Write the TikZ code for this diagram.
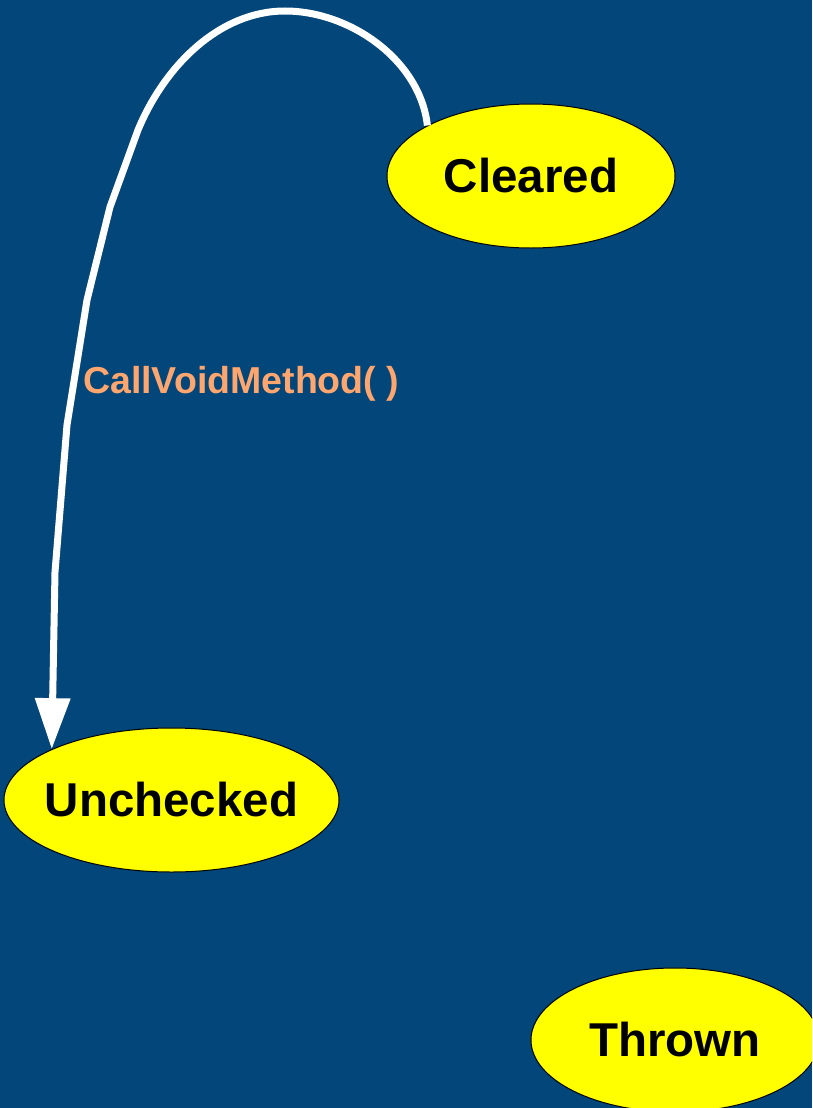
\documentclass[tikz,border=0pt]{standalone}
\usepackage{fontspec}
\setmainfont{Liberation Sans}
\usetikzlibrary{shapes.geometric,arrows.meta}
\definecolor{bgblue}{RGB}{2,70,122}
\definecolor{stateyellow}{RGB}{255,255,0}
\definecolor{labelorange}{RGB}{255,166,110}
\tikzset{
  state/.style={ellipse, draw=black, line width=1pt, fill=stateyellow,
    minimum width=288pt, minimum height=144pt, inner xsep=-40pt, inner ysep=0pt,
    font=\fontsize{47.5}{50}\selectfont\bfseries, text=black},
  transition/.style={draw=white, line width=7pt, line join=round,
    -{Triangle[length=51pt,width=34pt]}},
  translabel/.style={font=\fontsize{37.5}{40}\selectfont\bfseries,
    text=labelorange, inner sep=0pt}
}
\begin{document}
\begin{tikzpicture}[x=1pt,y=-1pt]
  \fill[bgblue] (0,0) rectangle (812,1108);
  \useasboundingbox (0,0) rectangle (812,1108);
  \begin{scope}
    \clip (0,0) rectangle (812,1108);
    \node[state] (cleared) at (531,176) {Cleared};
    \node[state, minimum width=335pt] (unchecked) at (171.5,800) {Unchecked};
    \node[state] (thrown) at (675,1040) {Thrown};
  \end{scope}
  \coordinate (top) at (285,11);
  \coordinate (b1) at (138,130);
  \coordinate (b2) at (110,207);
  \coordinate (b3) at (87,300);
  \coordinate (b4) at (67,425);
  \coordinate (b5) at (55,572);
  \draw[transition] (cleared.154) .. controls (420,60) and (350,11) .. (top)
    .. controls (220,11) and (165,65) .. (b1) -- (b2) -- (b3) -- (b4) -- (b5)
    -- (unchecked.157);
  \node[translabel, anchor=base west] (callvoid) at (83,393) {CallVoidMethod( )};
\end{tikzpicture}
\end{document}
